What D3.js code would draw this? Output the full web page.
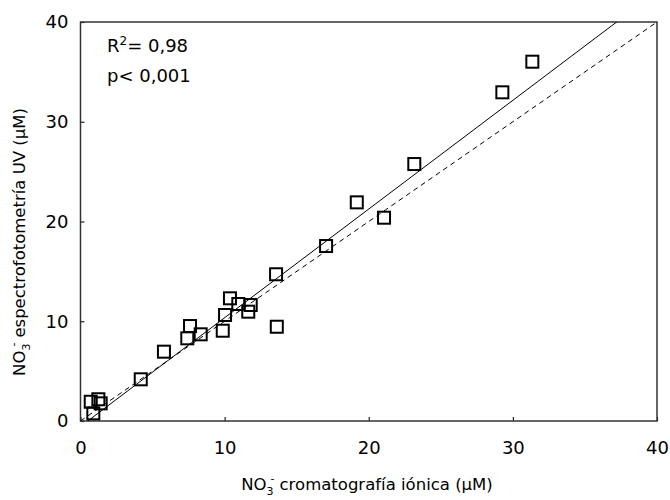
<!DOCTYPE html>
<html>
<head>
<meta charset="utf-8">
<script src="https://cdn.jsdelivr.net/npm/d3@7"></script>
<style>
  html, body { margin: 0; padding: 0; background: #fff; }
  svg text { font-family: "DejaVu Sans", Verdana, sans-serif; fill: #000; }
</style>
</head>
<body>
<svg id="chart" width="670" height="500"></svg>
<script>
// NO3- measured by ion chromatography (x) and UV spectrophotometry (y), µM
const ionChrom = [0.71, 1.24, 1.40, 0.89, 4.18, 5.79, 7.41, 7.60, 8.34, 9.87, 10.03, 10.37,
                  10.95, 11.81, 11.64, 13.62, 13.57, 17.04, 19.17, 21.06, 23.16, 29.27, 31.35];
const uvSpec   = [1.93, 2.18, 1.77, 0.77, 4.18, 6.95, 8.29, 9.52, 8.69, 9.05, 10.63, 12.30,
                  11.73, 11.63, 10.96, 9.45, 14.71, 17.54, 21.92, 20.38, 25.76, 32.95, 36.02];

// fitted regression line and 1:1 reference line
const fitIntercept = -0.55;
const fitSlope = 1.09;
const identity = [0, 40];

const xTicks = [0, 10, 20, 30, 40];
const yTicks = [0, 10, 20, 30, 40];
const statsText = ["0,98", "p< 0,001"];

const svg = d3.select("#chart");
const mLeft = 80.5, mRight = 657, mTop = 22, mBottom = 421;

const x = d3.scaleLinear().domain([0, 40]).range([mLeft, mRight]);
const y = d3.scaleLinear().domain([0, 40]).range([mBottom, mTop]);

svg.append("defs").append("clipPath").attr("id", "plotClip")
  .append("rect").attr("x", mLeft).attr("y", mTop)
  .attr("width", mRight - mLeft).attr("height", mBottom - mTop);

// axes with inward ticks
const xAxis = svg.append("g").attr("transform", `translate(0,${mBottom})`)
  .call(d3.axisBottom(x).tickValues(xTicks).tickSizeInner(-4).tickSizeOuter(0).tickPadding(20));
const yAxis = svg.append("g").attr("transform", `translate(${mLeft},0)`)
  .call(d3.axisLeft(y).tickValues(yTicks).tickSizeInner(-4).tickSizeOuter(0).tickPadding(12));

[xAxis, yAxis].forEach(g => {
  g.select(".domain").remove();
  g.selectAll("line").attr("stroke", "#222").attr("stroke-width", 1.2);
  g.selectAll("text").attr("font-size", 18).attr("font-family", "DejaVu Sans, sans-serif").attr("fill", "#000");
});

// frame
svg.append("rect").attr("x", mLeft).attr("y", mTop)
  .attr("width", mRight - mLeft).attr("height", mBottom - mTop)
  .attr("fill", "none").attr("stroke", "#333").attr("stroke-width", 1.5);

const plot = svg.append("g").attr("clip-path", "url(#plotClip)");

// 1:1 line
plot.append("line")
  .attr("x1", x(identity[0])).attr("y1", y(identity[0]))
  .attr("x2", x(identity[1])).attr("y2", y(identity[1]))
  .attr("stroke", "#000").attr("stroke-width", 1).attr("stroke-dasharray", "5,4");

// regression line
const fitX = [0, 40];
plot.append("line")
  .attr("x1", x(fitX[0])).attr("y1", y(fitIntercept + fitSlope * fitX[0]))
  .attr("x2", x(fitX[1])).attr("y2", y(fitIntercept + fitSlope * fitX[1]))
  .attr("stroke", "#000").attr("stroke-width", 1);

// observations
const pts = ionChrom.map((v, i) => ({ x: v, y: uvSpec[i] }));
const s = 12;
svg.append("g").selectAll("rect").data(pts).join("rect")
  .attr("x", d => x(d.x) - s / 2).attr("y", d => y(d.y) - s / 2)
  .attr("width", s).attr("height", s)
  .attr("fill", "none").attr("stroke", "#000").attr("stroke-width", 2);

// statistics annotation
const r2 = svg.append("text").attr("x", 107).attr("y", 52).attr("font-size", 18);
r2.append("tspan").text("R");
r2.append("tspan").attr("dy", -7).attr("font-size", 12).text("2");
r2.append("tspan").attr("dy", 7).text("= " + statsText[0]);
svg.append("text").attr("x", 107).attr("y", 82).attr("font-size", 18).text(statsText[1]);

// axis title with NO3- formula
function formulaTitle(sel, rest) {
  sel.append("tspan").text("NO");
  sel.append("tspan").attr("dy", 5).attr("font-size", 11).text("3");
  sel.append("tspan").attr("dx", -3).attr("dy", -13).attr("font-size", 11).text("-");
  sel.append("tspan").attr("dx", 5).attr("dy", 8).text(rest);
}

const xt = svg.append("text").attr("x", 367).attr("y", 490)
  .attr("text-anchor", "middle").attr("font-size", 16.5);
formulaTitle(xt, "cromatografía iónica (µM)");

const yt = svg.append("text")
  .attr("transform", `translate(25,242) rotate(-90)`)
  .attr("text-anchor", "middle").attr("font-size", 16.5);
formulaTitle(yt, "espectrofotometría UV (µM)");
</script>
</body>
</html>
